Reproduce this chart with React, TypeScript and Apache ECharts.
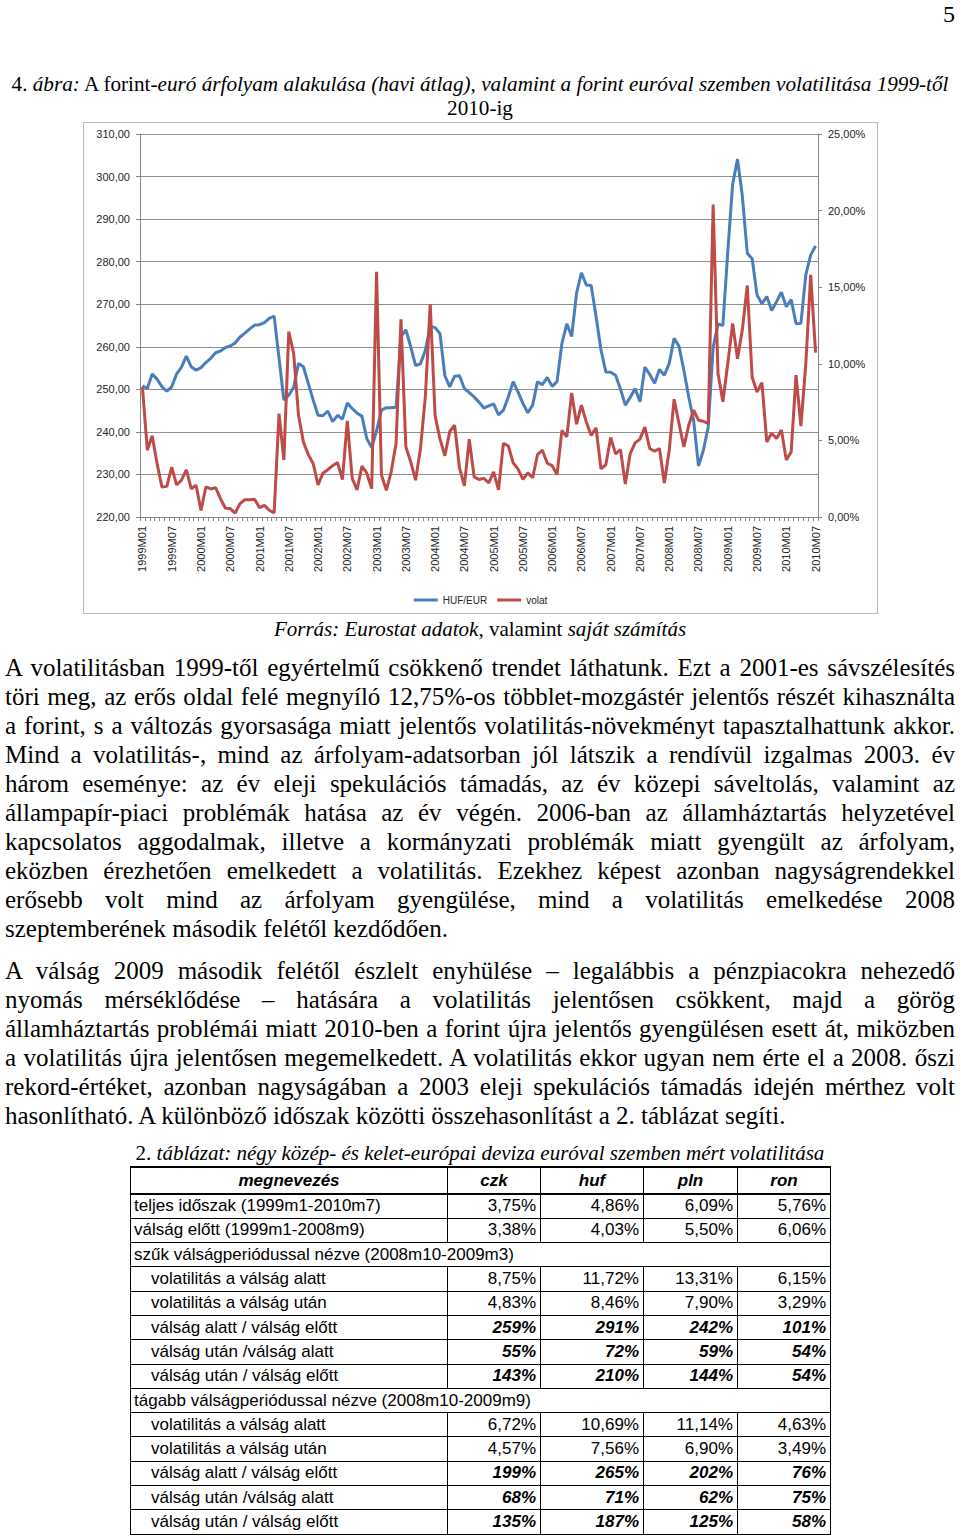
import React, { useEffect, useRef } from "react";
import * as echarts from "echarts";

// ---------- chart data ----------
const years = [1999, 2000, 2001, 2002, 2003, 2004, 2005, 2006, 2007, 2008, 2009, 2010];
const monthCodes = ["01", "02", "03", "04", "05", "06", "07", "08", "09", "10", "11", "12"];
const monthsIn2010 = 7;
const categories: string[] = [];
for (const y of years) {
  for (let m = 0; m < 12; m++) {
    if (y === 2010 && m >= monthsIn2010) break;
    categories.push(`${y}M${monthCodes[m]}`);
  }
}

const hufEur = [
  250.8, 250.2, 253.6, 252.4, 250.6, 249.6, 250.6, 253.6, 255.2, 257.8, 255.3, 254.5,
  255.1, 256.3, 257.3, 258.6, 259.0, 259.8, 260.2, 260.9, 262.3, 263.2, 264.2, 265.1,
  265.2, 265.7, 266.7, 267.2, 257.3, 247.5, 248.6, 250.5, 256.1, 255.3, 251.4, 247.5,
  243.9, 243.8, 244.9, 242.4, 243.9, 243.0, 246.8, 245.5, 244.4, 243.7, 238.4, 236.3,
  240.2, 245.1, 245.7, 245.7, 245.8, 262.4, 264.0, 260.0, 255.6, 256.0, 259.2, 264.8,
  264.5, 263.1, 253.2, 250.6, 253.1, 253.2, 250.2, 249.2, 248.2, 247.0, 245.6, 246.1,
  246.6, 244.0, 245.1, 248.2, 251.8, 249.4, 246.7, 244.5, 246.3, 251.8, 251.1, 252.8,
  250.7, 251.8, 260.8, 265.4, 262.4, 272.6, 277.4, 274.5, 274.4, 267.1, 259.3, 254.1,
  254.0, 253.3, 250.1, 246.3, 248.1, 250.2, 247.1, 255.2, 253.5, 251.4, 254.7, 253.3,
  256.1, 262.0, 260.1, 254.5, 248.2, 242.7, 232.0, 235.7, 241.2, 259.8, 265.4, 265.0,
  282.3, 298.2, 304.1, 295.3, 282.0, 280.7, 272.2, 270.1, 271.8, 268.5, 270.6, 272.8,
  269.4, 271.1, 265.4, 265.5, 276.9, 281.6, 283.7,
];

const volat = [
  8.48, 4.36, 5.3, 3.49, 1.95, 2.0, 3.25, 2.1, 2.4, 3.08, 1.85, 2.07,
  0.42, 1.96, 1.83, 1.92, 1.2, 0.57, 0.55, 0.26, 0.87, 1.13, 1.13, 1.16,
  0.61, 0.76, 0.44, 0.26, 6.75, 3.72, 12.1, 10.68, 6.64, 4.9, 4.07, 3.49,
  2.1, 2.86, 3.09, 3.36, 3.55, 2.44, 6.27, 2.52, 1.77, 3.32, 2.86, 1.85,
  16.0, 2.75, 1.74, 2.95, 4.82, 12.9, 4.58, 3.6, 2.4, 4.47, 7.84, 13.9,
  6.6, 5.1, 4.0, 5.58, 6.0, 3.2, 2.03, 5.08, 2.62, 2.45, 2.52, 2.23,
  2.94, 1.77, 4.8, 4.65, 3.53, 3.12, 2.46, 2.88, 2.56, 4.08, 4.36, 3.51,
  3.35, 2.77, 5.65, 5.23, 8.1, 6.06, 7.3, 6.2, 5.32, 5.82, 3.14, 3.41,
  5.19, 4.12, 4.4, 2.15, 4.14, 4.84, 5.08, 5.87, 4.47, 4.29, 4.47, 2.22,
  4.36, 7.69, 6.1, 4.58, 5.99, 6.97, 6.32, 6.25, 6.1, 20.4, 9.37, 7.52,
  10.02, 12.64, 10.33, 12.25, 15.11, 9.12, 8.15, 8.77, 4.9, 5.47, 5.12, 5.68,
  3.72, 4.25, 9.26, 5.93, 10.0, 15.8, 10.73,
];

const leftAxisRange = { min: 220, max: 310, interval: 10 };
const rightAxisRange = { min: 0, max: 25, interval: 5 };
const seriesNames = ["HUF/EUR", "volat"];
const seriesColors = ["#4a7ebb", "#be4b48"];

// ---------- text data ----------
const para1 = [
  "A volatilitásban 1999-től egyértelmű csökkenő trendet láthatunk. Ezt a 2001-es sávszélesítés",
  "töri meg, az erős oldal felé megnyíló 12,75%-os többlet-mozgástér jelentős részét kihasználta",
  "a forint, s a változás gyorsasága miatt jelentős volatilitás-növekményt tapasztalhattunk akkor.",
  "Mind a volatilitás-, mind az árfolyam-adatsorban jól látszik a rendívül izgalmas 2003. év",
  "három eseménye: az év eleji spekulációs támadás, az év közepi sáveltolás, valamint az",
  "állampapír-piaci problémák hatása az év végén. 2006-ban az államháztartás helyzetével",
  "kapcsolatos aggodalmak, illetve a kormányzati problémák miatt gyengült az árfolyam,",
  "eközben érezhetően emelkedett a volatilitás. Ezekhez képest azonban nagyságrendekkel",
  "erősebb volt mind az árfolyam gyengülése, mind a volatilitás emelkedése 2008",
  "szeptemberének második felétől kezdődően.",
];
const para2 = [
  "A válság 2009 második felétől észlelt enyhülése – legalábbis a pénzpiacokra nehezedő",
  "nyomás mérséklődése – hatására a volatilitás jelentősen csökkent, majd a görög",
  "államháztartás problémái miatt 2010-ben a forint újra jelentős gyengülésen esett át, miközben",
  "a volatilitás újra jelentősen megemelkedett. A volatilitás ekkor ugyan nem érte el a 2008. őszi",
  "rekord-értéket, azonban nagyságában a 2003 eleji spekulációs támadás idején mérthez volt",
  "hasonlítható. A különböző időszak közötti összehasonlítást a 2. táblázat segíti.",
];

const tableHeader = ["megnevezés", "czk", "huf", "pln", "ron"];
type Row = { label: string; kind: "plain" | "section" | "sub" | "ratio"; values?: string[] };
const tableRows: Row[] = [
  { label: "teljes időszak (1999m1-2010m7)", kind: "plain", values: ["3,75%", "4,86%", "6,09%", "5,76%"] },
  { label: "válság előtt (1999m1-2008m9)", kind: "plain", values: ["3,38%", "4,03%", "5,50%", "6,06%"] },
  { label: "szűk válságperiódussal nézve (2008m10-2009m3)", kind: "section" },
  { label: "volatilitás a válság alatt", kind: "sub", values: ["8,75%", "11,72%", "13,31%", "6,15%"] },
  { label: "volatilitás a válság után", kind: "sub", values: ["4,83%", "8,46%", "7,90%", "3,29%"] },
  { label: "válság alatt / válság előtt", kind: "ratio", values: ["259%", "291%", "242%", "101%"] },
  { label: "válság után /válság alatt", kind: "ratio", values: ["55%", "72%", "59%", "54%"] },
  { label: "válság után / válság előtt", kind: "ratio", values: ["143%", "210%", "144%", "54%"] },
  { label: "tágabb válságperiódussal nézve (2008m10-2009m9)", kind: "section" },
  { label: "volatilitás a válság alatt", kind: "sub", values: ["6,72%", "10,69%", "11,14%", "4,63%"] },
  { label: "volatilitás a válság után", kind: "sub", values: ["4,57%", "7,56%", "6,90%", "3,49%"] },
  { label: "válság alatt / válság előtt", kind: "ratio", values: ["199%", "265%", "202%", "76%"] },
  { label: "válság után /válság alatt", kind: "ratio", values: ["68%", "71%", "62%", "75%"] },
  { label: "válság után / válság előtt", kind: "ratio", values: ["135%", "187%", "125%", "58%"] },
];
const colWidths = [317, 93, 103, 94, 93];

const serif = "'Liberation Serif', 'Times New Roman', serif";
const sans = "'Liberation Sans', Arial, sans-serif";

function Chart() {
  const ref = useRef<HTMLDivElement>(null);
  useEffect(() => {
    if (!ref.current) return;
    const chart = echarts.init(ref.current, undefined, { renderer: "svg" });
    const fmt = (v: number) => v.toFixed(2).replace(".", ",");
    chart.setOption({
      animation: false,
      textStyle: { fontFamily: sans },
      grid: { left: 56, top: 11, width: 678, height: 383, containLabel: false },
      legend: {
        top: 467,
        left: "center",
        icon: "rect",
        itemWidth: 24,
        itemHeight: 3,
        itemGap: 10,
        textStyle: { fontSize: 10, color: "#262626", fontFamily: sans },
        data: seriesNames,
      },
      xAxis: {
        type: "category",
        data: categories,
        boundaryGap: true,
        axisLine: { lineStyle: { color: "#868686", width: 1 } },
        axisTick: { show: true, interval: 0, length: 4, lineStyle: { color: "#868686" } },
        axisLabel: { interval: 5, rotate: 90, fontSize: 11, color: "#262626", margin: 9, fontFamily: sans },
        splitLine: { show: false },
      },
      yAxis: [
        {
          type: "value",
          position: "left",
          min: leftAxisRange.min,
          max: leftAxisRange.max,
          interval: leftAxisRange.interval,
          axisLine: { show: true, lineStyle: { color: "#868686" } },
          axisTick: { show: true, length: 4, lineStyle: { color: "#868686" } },
          axisLabel: { formatter: fmt, fontSize: 11, color: "#262626", margin: 10, fontFamily: sans },
          splitLine: { show: true, lineStyle: { color: "#8f8f8f", width: 1 } },
        },
        {
          type: "value",
          position: "right",
          min: rightAxisRange.min,
          max: rightAxisRange.max,
          interval: rightAxisRange.interval,
          axisLine: { show: true, lineStyle: { color: "#868686" } },
          axisTick: { show: true, length: 4, lineStyle: { color: "#868686" } },
          axisLabel: { formatter: (v: number) => fmt(v) + "%", fontSize: 11, color: "#262626", margin: 10, fontFamily: sans },
          splitLine: { show: false },
        },
      ],
      series: [
        {
          name: seriesNames[0],
          type: "line",
          yAxisIndex: 0,
          data: hufEur,
          symbol: "none",
          lineStyle: { color: seriesColors[0], width: 3 },
          itemStyle: { color: seriesColors[0] },
        },
        {
          name: seriesNames[1],
          type: "line",
          yAxisIndex: 1,
          data: volat,
          symbol: "none",
          lineStyle: { color: seriesColors[1], width: 3 },
          itemStyle: { color: seriesColors[1] },
        },
      ],
    });
    return () => chart.dispose();
  }, []);
  return <div ref={ref} style={{ width: 793, height: 490 }} />;
}

function Paragraph({ lines, top }: { lines: string[]; top: number }) {
  return (
    <div style={{ position: "absolute", left: 5, top, width: 950, fontFamily: serif, fontSize: 25, color: "#000" }}>
      {lines.map((l, i) => {
        const last = i === lines.length - 1;
        return (
          <div
            key={i}
            style={{
              height: 29,
              lineHeight: "29px",
              textAlign: last ? "left" : "justify",
              textAlignLast: last ? "left" : "justify",
              whiteSpace: "nowrap",
            } as React.CSSProperties}
          >
            {l}
          </div>
        );
      })}
    </div>
  );
}

function Table() {
  const cell: React.CSSProperties = {
    border: "1px solid #000",
    padding: 0,
    fontFamily: sans,
    fontSize: 17,
    color: "#000",
    overflow: "visible",
    whiteSpace: "nowrap",
  };
  return (
    <table
      style={{
        position: "absolute",
        left: 130,
        top: 1166,
        width: 700,
        borderCollapse: "collapse",
        tableLayout: "fixed",
      }}
    >
      <colgroup>
        {colWidths.map((w, i) => (
          <col key={i} style={{ width: w }} />
        ))}
      </colgroup>
      <tbody>
        <tr style={{ height: 27 }}>
          {tableHeader.map((h, i) => (
            <td
              key={i}
              style={{
                ...cell,
                borderTop: "2px solid #000",
                borderBottom: "2px solid #000",
                fontWeight: "bold",
                fontStyle: "italic",
                textAlign: "center",
              }}
            >
              {h}
            </td>
          ))}
        </tr>
        {tableRows.map((r, ri) => {
          if (r.kind === "section") {
            return (
              <tr key={ri} style={{ height: 24.3 }}>
                <td colSpan={5} style={{ ...cell, paddingLeft: 3, textAlign: "left" }}>
                  {r.label}
                </td>
              </tr>
            );
          }
          const bold = r.kind === "ratio";
          return (
            <tr key={ri} style={{ height: 24.3 }}>
              <td style={{ ...cell, paddingLeft: r.kind === "plain" ? 3 : 20, textAlign: "left" }}>{r.label}</td>
              {(r.values || []).map((v, vi) => (
                <td
                  key={vi}
                  style={{
                    ...cell,
                    textAlign: "right",
                    paddingRight: 4,
                    fontWeight: bold ? "bold" : "normal",
                    fontStyle: bold ? "italic" : "normal",
                  }}
                >
                  {v}
                </td>
              ))}
            </tr>
          );
        })}
      </tbody>
    </table>
  );
}

export default function App() {
  return (
    <div
      style={{
        position: "absolute",
        left: 0,
        top: 0,
        width: 960,
        height: 1537,
        background: "#fff",
        overflow: "hidden",
        fontFamily: serif,
        color: "#000",
      }}
    >
      <div style={{ position: "absolute", right: 5, top: 0, fontSize: 24, lineHeight: "28px" }}>5</div>
      <div
        style={{
          position: "absolute",
          left: 0,
          top: 72,
          width: 960,
          textAlign: "center",
          fontSize: 21.2,
          lineHeight: "24px",
          whiteSpace: "nowrap",
        }}
      >
        4. <i>ábra:</i> A forint-<i>euró árfolyam alakulása (havi átlag), valamint a forint euróval szemben volatilitása 1999-től</i>
        <br />
        2010-ig
      </div>
      <div
        style={{
          position: "absolute",
          left: 83,
          top: 122,
          width: 795,
          height: 492,
          boxSizing: "border-box",
          border: "1px solid #bdbdbd",
        }}
      >
        <Chart />
      </div>
      <div
        style={{
          position: "absolute",
          left: 0,
          top: 617,
          width: 960,
          textAlign: "center",
          fontSize: 21,
          lineHeight: "24px",
        }}
      >
        <i>Forrás: Eurostat adatok</i>, valamint <i>saját számítás</i>
      </div>
      <Paragraph lines={para1} top={652.5} />
      <Paragraph lines={para2} top={955.5} />
      <div
        style={{
          position: "absolute",
          left: 0,
          top: 1141,
          width: 960,
          textAlign: "center",
          fontSize: 21,
          lineHeight: "24px",
        }}
      >
        2. <i>táblázat: négy közép- és kelet-európai deviza euróval szemben mért volatilitása</i>
      </div>
      <Table />
    </div>
  );
}
